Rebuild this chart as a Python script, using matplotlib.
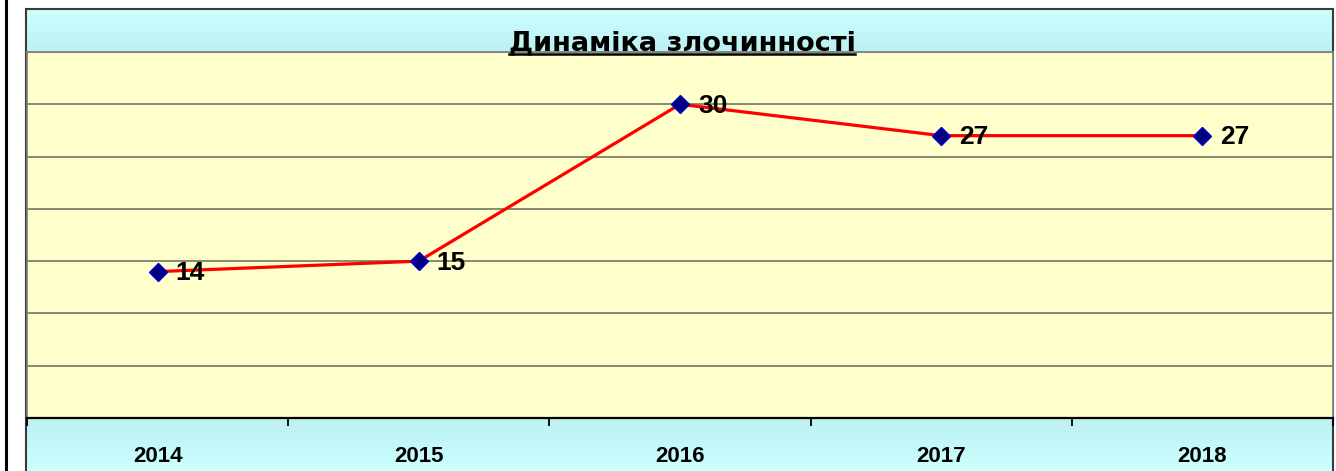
import matplotlib.pyplot as plt
import numpy as np
from matplotlib.patches import Rectangle
from matplotlib.lines import Line2D

# data
years = ['2014', '2015', '2016', '2017', '2018']
crimes = [14, 15, 30, 27, 27]
title = 'Динаміка злочинності'

W, H = 1336, 471
fig = plt.figure(figsize=(W / 100, H / 100), dpi=100)
fig.patch.set_facecolor('white')

def fx(px):
    return px / W

def fy(py):
    return 1 - py / H

# chart area background with a soft vertical gradient
bg = fig.add_axes([fx(26), 0, fx(1333 - 26), fy(9)], zorder=0)
rows = np.linspace(9, 471, 300)
light = np.array([0.80, 1.0, 1.0])
dark = np.array([0.74, 0.94, 0.94])
mix = np.interp(rows, [9, 52, 418, 471], [0, 1, 1, 0])[:, None]
grad = light * (1 - mix) + dark * mix
bg.imshow(grad[:, None, :], aspect='auto', extent=[0, 1, 0, 1])
bg.set_axis_off()

# chart area border
fig.add_artist(Rectangle((fx(26), -0.01), fx(1333 - 26), fy(9) + 0.01,
                         transform=fig.transFigure, fill=False,
                         edgecolor='#3a3a3a', linewidth=1.5, zorder=1))
# black vertical line at far left
fig.add_artist(Line2D([fx(6), fx(6)], [0, 1], transform=fig.transFigure,
                      color='black', linewidth=2.2))

ax = fig.add_axes([fx(27), fy(418), fx(1333 - 27), fy(52) - fy(418)], zorder=2)
ax.set_facecolor('#FFFFCC')
x = np.arange(len(years))
ax.plot(x, crimes, color='#FF0000', linewidth=2.3, marker='D', markersize=9,
        markerfacecolor='#000080', markeredgecolor='#0000CC', zorder=3)
for xi, v in zip(x, crimes):
    ax.annotate(str(v), (xi, v), xytext=(13, -1), textcoords='offset points',
                ha='left', va='center', fontsize=19, fontweight='bold',
                family='Liberation Sans', color='black', zorder=4)

ax.set_xlim(-0.5, len(years) - 0.5)
ax.set_ylim(0, 35)
ax.set_yticks(np.arange(5, 36, 5))
ax.yaxis.grid(True, color='#80806a', linewidth=1.3)
ax.set_axisbelow(True)
ax.tick_params(axis='y', left=False, labelleft=False)
ax.set_xticks(np.arange(-0.5, len(years), 1.0))
ax.set_xticks(x, minor=True)
ax.set_xticklabels([])
ax.set_xticklabels(years, minor=True, fontsize=16, fontweight='bold',
                   family='Liberation Sans')
ax.tick_params(axis='x', which='major', direction='out', length=6, width=1.3,
               color='black')
ax.tick_params(axis='x', which='minor', length=0, pad=20)
for s in ['top', 'left', 'right']:
    ax.spines[s].set_color('#808080')
    ax.spines[s].set_linewidth(1.3)
ax.spines['bottom'].set_color('black')
ax.spines['bottom'].set_linewidth(1.6)

# underlined bold title
t = fig.text(fx(682), fy(50), title, ha='center', va='baseline',
             fontsize=19.5, fontweight='bold', family='DejaVu Sans', zorder=5)
fig.canvas.draw()
bb = t.get_window_extent().transformed(fig.transFigure.inverted())
fig.add_artist(Line2D([bb.x0, bb.x1], [fy(54), fy(54)], transform=fig.transFigure,
                      color='black', linewidth=1.8, zorder=5))

fig.savefig('out.png', dpi=100)
